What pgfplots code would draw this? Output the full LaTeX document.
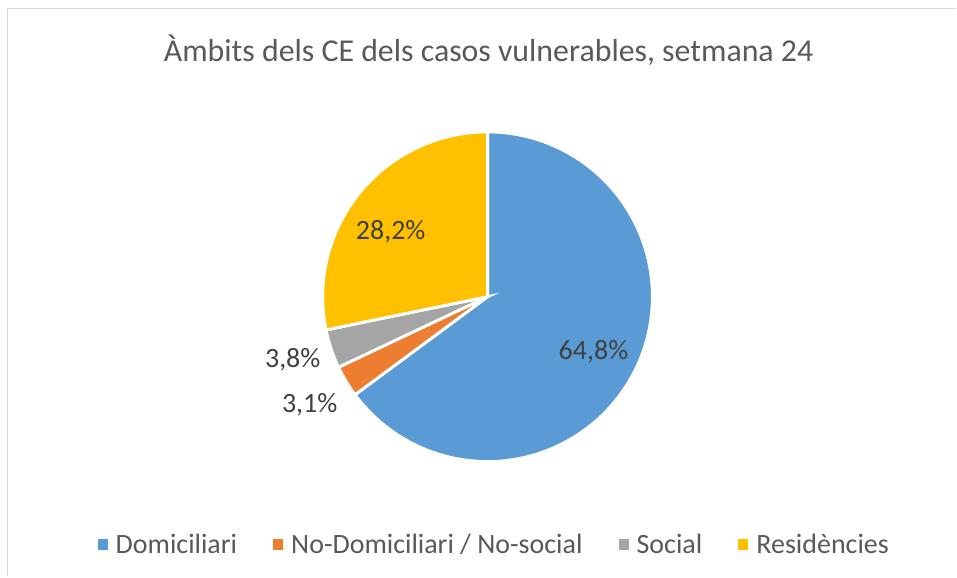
\documentclass[border=0pt]{standalone}
\usepackage{fontspec}
\setmainfont{Carlito}
\usepackage{pgfplots}
\pgfplotsset{compat=1.18}
\definecolor{cDom}{HTML}{5B9BD5}
\definecolor{cNoD}{HTML}{ED7D31}
\definecolor{cSoc}{HTML}{A5A5A5}
\definecolor{cRes}{HTML}{FFC000}
\definecolor{txtA}{HTML}{595959}
\definecolor{txtB}{HTML}{404040}
\definecolor{frame}{HTML}{D9D9D9}
% values (%)
\def\vDom{64.8}
\def\vNoD{3.1}
\def\vSoc{3.8}
\def\vRes{28.2}
\pgfmathsetmacro{\tot}{\vDom+\vNoD+\vSoc+\vRes}
\pgfmathsetmacro{\sc}{360/\tot}
\pgfmathsetmacro{\aA}{90}
\pgfmathsetmacro{\aB}{\aA-\sc*\vDom}
\pgfmathsetmacro{\aC}{\aB-\sc*\vNoD}
\pgfmathsetmacro{\aD}{\aC-\sc*\vSoc}
\pgfmathsetmacro{\aE}{\aD-\sc*\vRes}
\def\cx{488}
\def\cy{280}
\def\rr{165}
\begin{document}
\begin{tikzpicture}
\begin{axis}[
  hide axis, scale only axis, clip=false,
  width=717.75pt, height=432.75pt,
  xmin=0, xmax=957, ymin=0, ymax=577,
  legend columns=4,
  legend style={at={(axis cs:495,32)}, anchor=center, draw=none, fill=none,
    font=\fontsize{21}{25}\selectfont, text=txtA,
    /tikz/every odd column/.append style={column sep=4pt},
    /tikz/every even column/.append style={column sep=25pt}},
  legend image code/.code={\fill[#1,draw=none] (0pt,-3.8pt) rectangle (7.6pt,3.8pt);},
]
\addplot[fill=cDom, draw=white, line width=2.2pt, domain=\aB:\aA, samples=120, variable=\t]
  ({\cx+\rr*cos(t)},{\cy+\rr*sin(t)}) -- (axis cs:\cx,\cy) -- cycle;
\addlegendentry{Domiciliari}
\addplot[fill=cNoD, draw=white, line width=2.2pt, domain=\aC:\aB, samples=20, variable=\t]
  ({\cx+\rr*cos(t)},{\cy+\rr*sin(t)}) -- (axis cs:\cx,\cy) -- cycle;
\addlegendentry{No-Domiciliari / No-social}
\addplot[fill=cSoc, draw=white, line width=2.2pt, domain=\aD:\aC, samples=20, variable=\t]
  ({\cx+\rr*cos(t)},{\cy+\rr*sin(t)}) -- (axis cs:\cx,\cy) -- cycle;
\addlegendentry{Social}
\addplot[fill=cRes, draw=white, line width=2.2pt, domain=\aE:\aD, samples=80, variable=\t]
  ({\cx+\rr*cos(t)},{\cy+\rr*sin(t)}) -- (axis cs:\cx,\cy) -- cycle;
\addlegendentry{Residències}
\draw[frame, line width=1.3pt] (axis cs:7.5,0) -- (axis cs:7.5,568.5) -- (axis cs:957,568.5);
\node[text=txtA, font=\fontsize{23.9}{28}\selectfont] at (axis cs:489,527) {Àmbits dels CE dels casos vulnerables, setmana 24};
\node[text=txtB, font=\fontsize{21}{25}\selectfont] at (axis cs:594,225) {64,8\%};
\node[text=txtB, font=\fontsize{21}{25}\selectfont] at (axis cs:391,345) {28,2\%};
\node[text=txtB, font=\fontsize{21}{25}\selectfont] at (axis cs:293,217) {3,8\%};
\node[text=txtB, font=\fontsize{21}{25}\selectfont] at (axis cs:310,172) {3,1\%};
\path (axis cs:0,0) (axis cs:957,577);
\end{axis}
\end{tikzpicture}
\end{document}
